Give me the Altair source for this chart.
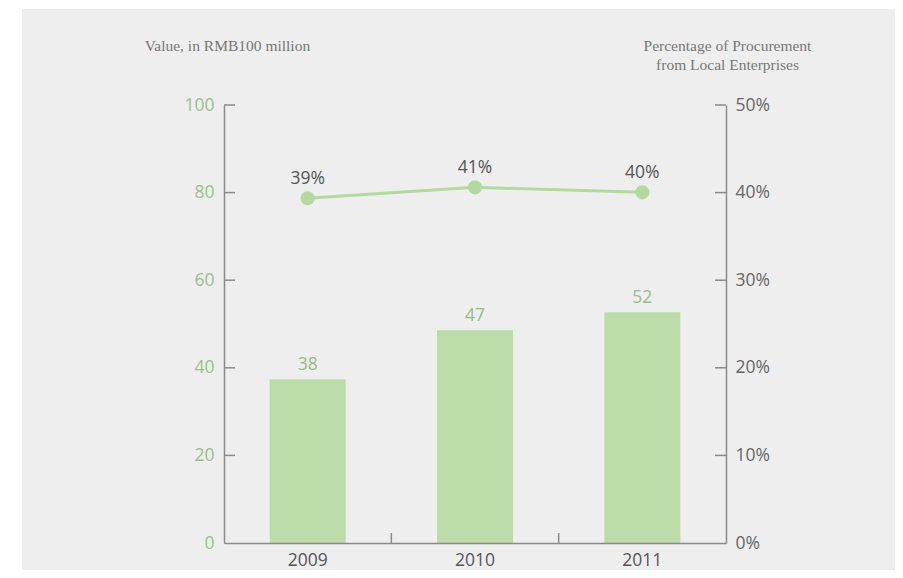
import altair as alt
import pandas as pd

# ---- data ----
years = ["2009", "2010", "2011"]
bar_values = [37.4, 48.6, 52.7]          # drawn bar heights (RMB100 million)
bar_labels = ["38", "47", "52"]          # printed labels
pct_values = [0.3935, 0.406, 0.4003]     # share of local procurement
pct_labels = ["39%", "41%", "40%"]
left_ticks = [0, 20, 40, 60, 80, 100]
right_ticks = [0, 0.1, 0.2, 0.3, 0.4, 0.5]
band_edges = ["2010", "2011"]

FONT = "Open Sans"
SERIF = "Liberation Serif"
BAR_COLOR = "#bbdba8"
LINE_COLOR = "#b4d99f"
FS = 17.5

bars_df = pd.DataFrame({"year": years, "value": bar_values, "label": bar_labels})
pct_df = pd.DataFrame({"year": years, "pct": pct_values, "label": pct_labels})
lt_df = pd.DataFrame({"v": left_ticks[1:]})
rt_df = pd.DataFrame({"v": right_ticks[1:]})
edge_df = pd.DataFrame({"year": band_edges})
bg_df = pd.DataFrame({"a": [0]})

W, H = 502, 438

xenc = alt.X(
    "year:N",
    sort=years,
    scale=alt.Scale(domain=years, paddingInner=0, paddingOuter=0),
    axis=alt.Axis(
        title=None, labelAngle=0, ticks=False, labelPadding=8,
        labelColor="#555555", labelFontSize=FS, labelFont=FONT,
        domainColor="#8a8a8a", domainWidth=1.5, zindex=1,
    ),
)

# background panel
bg = alt.Chart(bg_df).mark_rect(color="#eeeeee").encode(
    x=alt.value(-202), x2=alt.value(700), y=alt.value(-96), y2=alt.value(480)
)

yleft = alt.Scale(domain=[0, 100])
bars = alt.Chart(bars_df).mark_bar(color=BAR_COLOR, size=76).encode(
    x=xenc,
    y=alt.Y(
        "value:Q", scale=yleft,
        axis=alt.Axis(
            orient="left", values=left_ticks, grid=False, ticks=False,
            labelPadding=10, labelColor="#9bbf8d", labelFontSize=FS, labelFont=FONT,
            domainColor="#8a8a8a", domainWidth=1.5, zindex=1,
            title="Value, in RMB100 million", titleAngle=0, titleAlign="center",
            titleX=3, titleY=-55, titleBaseline="alphabetic",
            titleFont=SERIF, titleFontSize=15.5, titleFontWeight="normal", titleColor="#777777",
        ),
    ),
)
bar_text = alt.Chart(bars_df).mark_text(
    baseline="bottom", dy=-5, fontSize=FS, font=FONT, color="#95bc87"
).encode(x=alt.X("year:N", sort=years), y=alt.Y("value:Q", scale=yleft), text="label:N")
lticks = alt.Chart(lt_df).mark_rule(color="#8a8a8a", strokeWidth=1.5).encode(
    y=alt.Y("v:Q", scale=yleft), x=alt.value(0), x2=alt.value(11)
)
xticks = alt.Chart(edge_df).mark_rule(color="#8a8a8a", strokeWidth=1.5).encode(
    x=alt.X("year:N", sort=years, bandPosition=0), y=alt.value(H), y2=alt.value(H - 10)
)
left_group = alt.layer(bars, bar_text, lticks, xticks)

yright = alt.Scale(domain=[0, 0.5])
line = alt.Chart(pct_df).mark_line(color=LINE_COLOR, strokeWidth=3).encode(
    x=alt.X("year:N", sort=years),
    y=alt.Y(
        "pct:Q", scale=yright,
        axis=alt.Axis(
            orient="right", values=right_ticks, format=".0%", grid=False, ticks=False,
            labelPadding=9, labelColor="#666666", labelFontSize=FS, labelFont=FONT,
            domainColor="#8a8a8a", domainWidth=1.5, zindex=1,
            title=["Percentage of Procurement", "from Local Enterprises"],
            titleAngle=0, titleAlign="center", titleX=1, titleY=-55,
            titleBaseline="alphabetic", titleLineHeight=19,
            titleFont=SERIF, titleFontSize=15.5, titleFontWeight="normal", titleColor="#777777",
        ),
    ),
)
points = alt.Chart(pct_df).mark_circle(color=LINE_COLOR, size=200, opacity=1).encode(
    x=alt.X("year:N", sort=years), y=alt.Y("pct:Q", scale=yright)
)
pct_text = alt.Chart(pct_df).mark_text(
    baseline="bottom", dy=-10, fontSize=FS, font=FONT, color="#555555"
).encode(x=alt.X("year:N", sort=years), y=alt.Y("pct:Q", scale=yright), text="label:N")
rticks = alt.Chart(rt_df).mark_rule(color="#8a8a8a", strokeWidth=1.5).encode(
    y=alt.Y("v:Q", scale=yright), x=alt.value(W - 11), x2=alt.value(W)
)
right_group = alt.layer(line, points, pct_text, rticks)

chart = (
    alt.layer(bg, left_group, right_group)
    .resolve_scale(y="independent")
    .properties(
        width=W, height=H,
        autosize=alt.AutoSizeParams(type="none"),
        padding={"left": 216, "top": 97, "right": 169, "bottom": 27},
        background="#ffffff",
    )
    .configure_view(stroke=None)
)

chart.save("out.html", embed_options={"renderer": "svg", "actions": False})
